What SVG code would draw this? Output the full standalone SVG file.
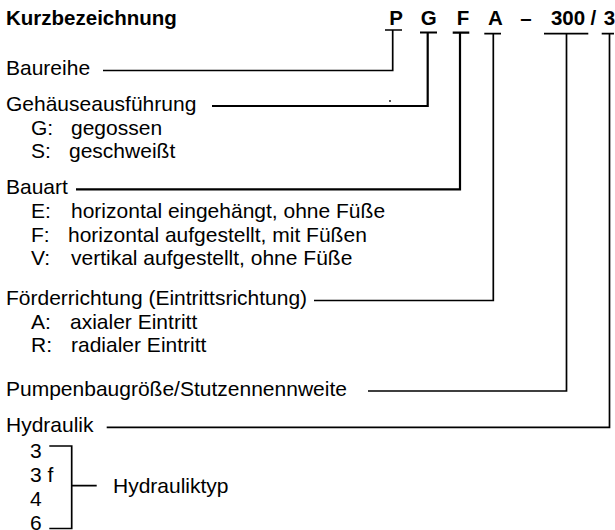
<svg xmlns="http://www.w3.org/2000/svg" width="615" height="530" viewBox="0 0 615 530">
<style>
text{font-family:"Liberation Sans",Arial,sans-serif;font-size:21px;fill:#000}
.b{font-weight:bold;font-size:20.5px}
.c{text-anchor:middle}
.ln{stroke:#000;stroke-width:1.7;fill:none}
.th{stroke:#000;stroke-width:2.2;fill:none}
</style>
<rect width="615" height="530" fill="#fff"/>
<g id="title">
<text class="b" x="6" y="25">Kurzbezeichnung</text>
</g>
<g id="code">
<text class="b c" x="396" y="25">P</text>
<text class="b c" x="428.8" y="25">G</text>
<text class="b c" x="463" y="25">F</text>
<text class="b c" x="495.5" y="25">A</text>
<text class="b c" x="526" y="25">–</text>
<text class="b c" x="568" y="25">300</text>
<text class="b c" x="593.3" y="25">/</text>
<text class="b c" x="609.5" y="25">3</text>
</g>
<g id="baureihe"><text x="6" y="75">Baureihe</text></g>
<g id="gehaeuse">
<text x="6" y="111">Gehäuseausführung</text>
<text x="31" y="134.5">G:</text><text x="71" y="134.5">gegossen</text>
<text x="31" y="158">S:</text><text x="69" y="158">geschweißt</text>
</g>
<g id="bauart">
<text x="6" y="194">Bauart</text>
<text x="31" y="218">E:</text><text x="71" y="218">horizontal eingehängt, ohne Füße</text>
<text x="31" y="241.5">F:</text><text x="68" y="241.5">horizontal aufgestellt, mit Füßen</text>
<text x="31" y="265">V:</text><text x="71" y="265">vertikal aufgestellt, ohne Füße</text>
</g>
<g id="foerder">
<text x="6" y="305">Förderrichtung (Eintrittsrichtung)</text>
<text x="31" y="328.5">A:</text><text x="70" y="328.5">axialer Eintritt</text>
<text x="31" y="352">R:</text><text x="71" y="352">radialer Eintritt</text>
</g>
<g id="pumpen"><text x="6" y="396">Pumpenbaugröße/Stutzennennweite</text></g>
<g id="hydraulik">
<text x="6" y="432">Hydraulik</text>
<text x="30" y="458">3</text>
<text x="30" y="482">3 f</text>
<text x="30" y="506">4</text>
<text x="30" y="530">6</text>
</g>
<g id="hydrauliktyp"><text x="113" y="493">Hydrauliktyp</text></g>
<g id="connectors">
<path class="ln" d="M385 30H402M392.7 30V70.5H103"/>
<path class="th" d="M420 32.5H437M427.7 32.5V106H212"/>
<circle cx="390" cy="101" r="0.9" fill="#000"/>
<path class="th" d="M452.7 32.7H469.3M460 32.7V189.3H76"/>
<path class="ln" d="M484.3 33.7H501M493.3 33.7V300.5H314"/>
<path class="ln" d="M544 33.7H588.3M566.5 33.7V391H368"/>
<path class="ln" d="M601.7 33.7H614M609.5 33.7V427.3H106.7"/>
<path class="ln" d="M49.3 446H71.7V528.5H49.3M71.7 485.7H96.7"/>
</g>
</svg>
